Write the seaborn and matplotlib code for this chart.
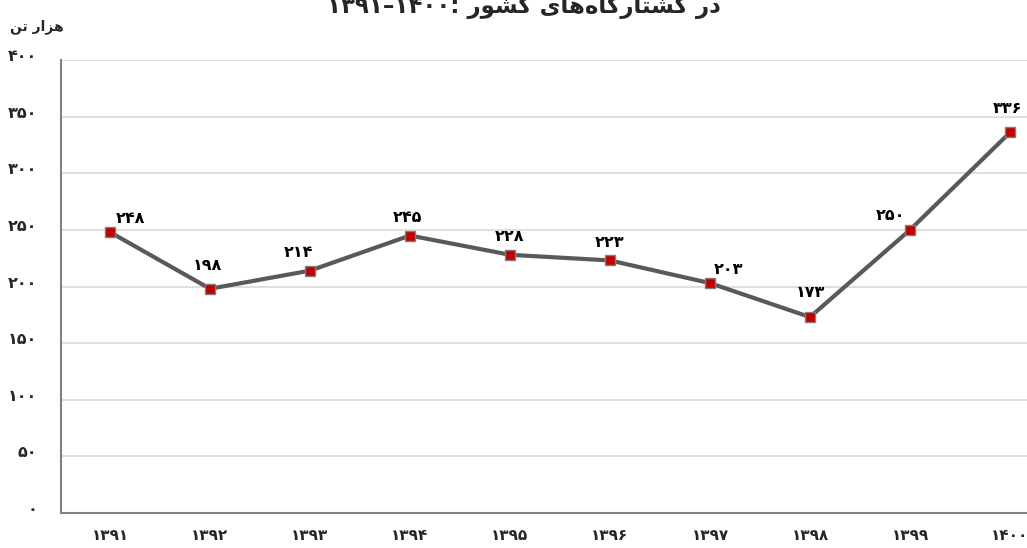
import matplotlib
matplotlib.use('Agg')
import matplotlib.pyplot as plt
import matplotlib.transforms as mtransforms
import seaborn as sns
import pandas as pd

# داده‌ها
years = ['1391', '1392', '1393', '1394', '1395', '1396', '1397', '1398', '1399', '1400']
values = [248, 198, 214, 245, 228, 223, 203, 173, 250, 336]
y_ticks = [0, 50, 100, 150, 200, 250, 300, 350, 400]

# offsets of the value labels (points)
label_dx = [15, -2, -8, -2, 0, 0, 13, 0, -14, -2]
label_dy = [10, 17, 13, 13, 13, 13, 10, 18, 10, 17]

fa_digits = str.maketrans('0123456789', '۰۱۲۳۴۵۶۷۸۹')


def fa(n):
    return str(n).translate(fa_digits)


# presentation forms, visual order (left to right)
unit_label = '\uFEE6\uFE97 \uFEAD\uFE8D\uFEB0\uFEEB'  # هزار تن
w_dar = '\uFEAD\uFEA9'
w_keshvar = '\uFEAD\uFEEE\uFEB8\uFB90'
w_koshtargah = ('\uFBFC\uFE8E\uFEEB' + '\uFEE9\uFE8E\uFB94\uFEAD\uFE8E\uFE98\uFEB8\uFB90')
title = fa('1391') + '–' + fa('1400') + ': ' + w_keshvar + ' ' + w_koshtargah + ' ' + w_dar

sns.set_style('white')
plt.rcParams['font.family'] = ['DejaVu Sans']

df = pd.DataFrame({'year': years, 'value': values})

fig = plt.figure(figsize=(10.27, 5.48), dpi=100)
ax = fig.add_axes([61 / 1027, 35 / 548, 966 / 1027, 453 / 548])

sns.lineplot(data=df, x='year', y='value', ax=ax, color='#595959', linewidth=3,
             marker='s', markersize=7, markerfacecolor='#c00000',
             markeredgecolor='#7f7f7f', markeredgewidth=1, sort=False)

for i, v in enumerate(values):
    ax.annotate(fa(v), (i, v), xytext=(label_dx[i], label_dy[i]), textcoords='offset points',
                ha='center', va='center', fontsize=11.5, fontweight='bold', color='black')

ax.set_ylim(0, 400)
ax.set_xlim(-0.49, 9.17)
ax.set_yticks(y_ticks)
ax.set_yticklabels([fa(t) for t in y_ticks], fontsize=11.5, fontweight='bold')
ax.set_xticks(range(len(years)))
ax.set_xticklabels([fa(y) for y in years], fontsize=11, fontweight='bold')
ax.tick_params(axis='y', length=0, pad=17)
ax.tick_params(axis='x', length=4, width=1, color='#808080', pad=7, direction='out')

# y labels sit a little above their gridlines
shift = mtransforms.ScaledTranslation(0, 5 / 100, fig.dpi_scale_trans)
for lab in ax.get_yticklabels():
    lab.set_transform(lab.get_transform() + shift)

ax.yaxis.grid(True, color='#d9d9d9', linewidth=1.2)
ax.set_axisbelow(True)
ax.set_xlabel('')
ax.set_ylabel('')
for s in ['top', 'right']:
    ax.spines[s].set_visible(False)
for s in ['left', 'bottom']:
    ax.spines[s].set_color('#808080')
    ax.spines[s].set_linewidth(1.5)

fig.text(10 / 1027, 1 - 27 / 548, unit_label, ha='left', va='center', fontsize=10, fontweight='bold')
# the title is cropped at the top edge in the reference
fig.text(0.51, 1 - 13 / 548, title, ha='center', va='baseline', fontsize=16.5, fontweight='bold')

fig.savefig('out.png', dpi=100)
